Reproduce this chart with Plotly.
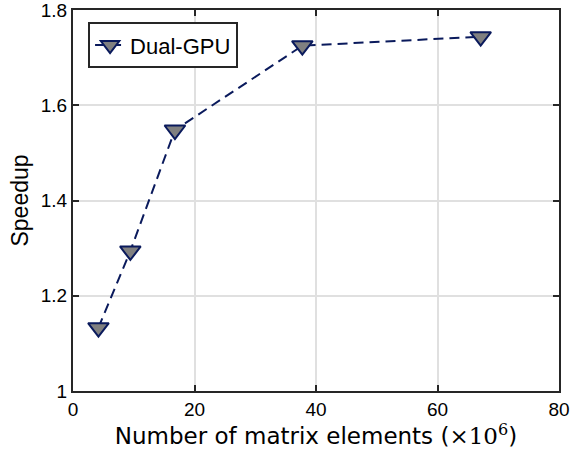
import plotly.graph_objects as go

elements_millions = [4.19, 9.44, 16.78, 37.75, 67.11]
speedup = [1.133, 1.294, 1.548, 1.725, 1.744]
series_name = "Dual-GPU"
x_ticks = [0, 20, 40, 60, 80]
y_ticks = [1, 1.2, 1.4, 1.6, 1.8]
y_tick_labels = ["1", "1.2", "1.4", "1.6", "1.8"]

navy = "#0a1a5c"
sans = "Liberation Sans, Arial, Helvetica"
fig = go.Figure()
fig.add_trace(go.Scatter(
    x=elements_millions, y=speedup, name=series_name, mode="lines+markers",
    line=dict(color=navy, width=2, dash="10px,6px"),
    marker=dict(symbol="triangle-down", size=18, color="#808080",
                line=dict(color=navy, width=2)),
))
axis_common = dict(showline=True, linecolor="#262626", linewidth=2, mirror="ticks",
                   ticks="inside", ticklen=6, tickcolor="#262626", tickwidth=2,
                   showgrid=True, gridcolor="#e0e0e0", gridwidth=2, zeroline=False,
                   automargin=False, ticklabeloverflow="allow",
                   tickfont=dict(family=sans, size=19, color="black"))
fig.update_xaxes(range=[0, 80], tickvals=x_ticks,
                 title=dict(text='Number of matrix elements (<span style="font-family:DejaVu Serif">×10<sup>6</sup></span>)',
                            font=dict(family="DejaVu Sans", size=23, color="black"), standoff=2),
                 **axis_common)
fig.update_yaxes(range=[1, 1.8], tickvals=y_ticks, ticktext=y_tick_labels,
                 title=dict(text="Speedup", font=dict(family=sans, size=23, color="black"), standoff=6),
                 **axis_common)
fig.update_layout(
    width=570, height=456, margin=dict(l=73, r=11, t=10, b=65),
    plot_bgcolor="white", paper_bgcolor="white",
    showlegend=True,
    legend=dict(x=0.031, y=0.968, xanchor="left", yanchor="top", bgcolor="white",
                bordercolor="#262626", borderwidth=2,
                font=dict(family=sans, size=22, color="black")),
)
fig.write_html("out.html")
